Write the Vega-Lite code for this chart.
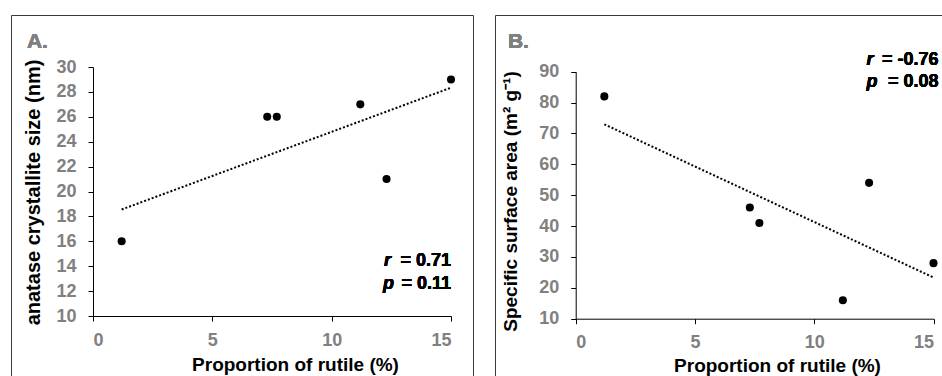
{
  "$schema": "https://vega.github.io/schema/vega-lite/v6.json",
  "padding": {"left": 10, "top": 14, "right": 0, "bottom": 0},
  "spacing": 20,
  "config": {
    "font": "Liberation Sans",
    "view": {"stroke": "#3a3a3a", "strokeWidth": 1},
    "axis": {
      "grid": false,
      "domainColor": "#000000",
      "tickColor": "#000000",
      "tickSize": 5,
      "labelOverlap": false,
      "labelFont": "Liberation Sans",
      "labelFontWeight": "bold",
      "labelFontSize": 18,
      "labelColor": "#808080",
      "titleFont": "Liberation Sans",
      "titleFontWeight": "bold",
      "titleFontSize": 19,
      "titleColor": "#000000"
    }
  },
  "datasets": {
    "a": [
      {"rutile": 1.2, "value": 16},
      {"rutile": 7.3, "value": 26},
      {"rutile": 7.7, "value": 26},
      {"rutile": 11.2, "value": 27},
      {"rutile": 12.3, "value": 21},
      {"rutile": 15.0, "value": 29}
    ],
    "b": [
      {"rutile": 1.2, "value": 82},
      {"rutile": 7.3, "value": 46},
      {"rutile": 7.7, "value": 41},
      {"rutile": 11.2, "value": 16},
      {"rutile": 12.3, "value": 54},
      {"rutile": 15.0, "value": 28}
    ]
  },
  "hconcat": [
    {
      "width": 462,
      "height": 362,
      "data": {"name": "a"},
      "encoding": {
        "x": {
          "field": "rutile", "type": "quantitative",
          "scale": {"domain": [0, 15], "range": [82, 440], "nice": false, "zero": false},
          "axis": {
            "values": [0, 5, 10, 15], "offset": -61, "labelPadding": 10,
            "labelFontWeight": "bold", "labelOverlap": false,
            "title": "Proportion of rutile (%)",
            "titleX": 284, "titleY": 54, "titleAlign": "center", "titleBaseline": "alphabetic"
          }
        },
        "y": {
          "field": "value", "type": "quantitative",
          "scale": {"domain": [10, 30], "range": [301, 52], "nice": false, "zero": false},
          "axis": {
            "values": [10, 12, 14, 16, 18, 20, 22, 24, 26, 28, 30], "offset": -82, "labelPadding": 12,
            "labelFontWeight": "bold", "labelOverlap": false,
            "title": "anatase  crystallite size (nm)", "titleFontSize": 20,
            "titleX": -53.5, "titleY": 177, "titleAngle": -90, "titleAlign": "center", "titleBaseline": "alphabetic"
          }
        }
      },
      "layer": [
        {
          "transform": [{"regression": "value", "on": "rutile"}],
          "mark": {"type": "line", "color": "#000000", "strokeWidth": 2, "strokeDash": [2, 2]}
        },
        {
          "mark": {"type": "circle", "size": 65, "color": "#000000", "opacity": 1}
        },
        {
          "mark": {"type": "text", "align": "left", "baseline": "alphabetic", "fontSize": 21, "fontWeight": "bold", "color": "#808080"},
          "encoding": {"x": {"datum": -2.77}, "y": {"datum": 31.5}, "text": {"value": "A."}}
        },
        {
          "mark": {"type": "text", "align": "right", "baseline": "alphabetic", "fontSize": 18, "fontWeight": "bold", "color": "#000000"},
          "encoding": {"x": {"datum": 15.0}, "y": {"datum": 14.0}, "text": {"value": "= 0.71"}}
        },
        {
          "mark": {"type": "text", "align": "right", "baseline": "alphabetic", "fontSize": 18, "fontWeight": "bold", "color": "#000000"},
          "encoding": {"x": {"datum": 15.0}, "y": {"datum": 12.2}, "text": {"value": "= 0.11"}}
        },
        {
          "mark": {"type": "text", "align": "left", "baseline": "alphabetic", "dx": -67, "fontSize": 18, "fontWeight": "bold", "fontStyle": "italic", "color": "#000000"},
          "encoding": {"x": {"datum": 15.0}, "y": {"datum": 14.0}, "text": {"value": "r"}}
        },
        {
          "mark": {"type": "text", "align": "left", "baseline": "alphabetic", "dx": -68, "fontSize": 18, "fontWeight": "bold", "fontStyle": "italic", "color": "#000000"},
          "encoding": {"x": {"datum": 15.0}, "y": {"datum": 12.2}, "text": {"value": "p"}}
        }
      ]
    },
    {
      "width": 450,
      "height": 362,
      "data": {"name": "b"},
      "encoding": {
        "x": {
          "field": "rutile", "type": "quantitative",
          "scale": {"domain": [0, 15], "range": [80.7, 438.5], "nice": false, "zero": false},
          "axis": {
            "values": [0, 5, 10, 15], "offset": -58.3, "labelPadding": 10,
            "labelFontWeight": "bold", "labelOverlap": false,
            "title": "Proportion of rutile (%)",
            "titleX": 282, "titleY": 52.3, "titleAlign": "center", "titleBaseline": "alphabetic"
          }
        },
        "y": {
          "field": "value", "type": "quantitative",
          "scale": {"domain": [10, 90], "range": [303.7, 56.7], "nice": false, "zero": false},
          "axis": {
            "values": [10, 20, 30, 40, 50, 60, 70, 80, 90], "offset": -80.7, "labelPadding": 12,
            "labelFontWeight": "bold", "labelOverlap": false,
            "title": "Specific surface area (m² g⁻¹)",
            "titleX": -59, "titleY": 186, "titleAngle": -90, "titleAlign": "center", "titleBaseline": "alphabetic"
          }
        }
      },
      "layer": [
        {
          "transform": [{"regression": "value", "on": "rutile"}],
          "mark": {"type": "line", "color": "#000000", "strokeWidth": 2, "strokeDash": [2, 2]}
        },
        {
          "mark": {"type": "circle", "size": 65, "color": "#000000", "opacity": 1}
        },
        {
          "mark": {"type": "text", "align": "left", "baseline": "alphabetic", "fontSize": 21, "fontWeight": "bold", "color": "#808080"},
          "encoding": {"x": {"datum": -2.84}, "y": {"datum": 97.7}, "text": {"value": "B."}}
        },
        {
          "mark": {"type": "text", "align": "right", "baseline": "alphabetic", "fontSize": 18, "fontWeight": "bold", "color": "#000000"},
          "encoding": {"x": {"datum": 15.21}, "y": {"datum": 92.2}, "text": {"value": "= -0.76"}}
        },
        {
          "mark": {"type": "text", "align": "right", "baseline": "alphabetic", "fontSize": 18, "fontWeight": "bold", "color": "#000000"},
          "encoding": {"x": {"datum": 15.21}, "y": {"datum": 84.9}, "text": {"value": "= 0.08"}}
        },
        {
          "mark": {"type": "text", "align": "left", "baseline": "alphabetic", "dx": -72, "fontSize": 18, "fontWeight": "bold", "fontStyle": "italic", "color": "#000000"},
          "encoding": {"x": {"datum": 15.21}, "y": {"datum": 92.2}, "text": {"value": "r"}}
        },
        {
          "mark": {"type": "text", "align": "left", "baseline": "alphabetic", "dx": -72, "fontSize": 18, "fontWeight": "bold", "fontStyle": "italic", "color": "#000000"},
          "encoding": {"x": {"datum": 15.21}, "y": {"datum": 84.9}, "text": {"value": "p"}}
        }
      ]
    }
  ]
}
